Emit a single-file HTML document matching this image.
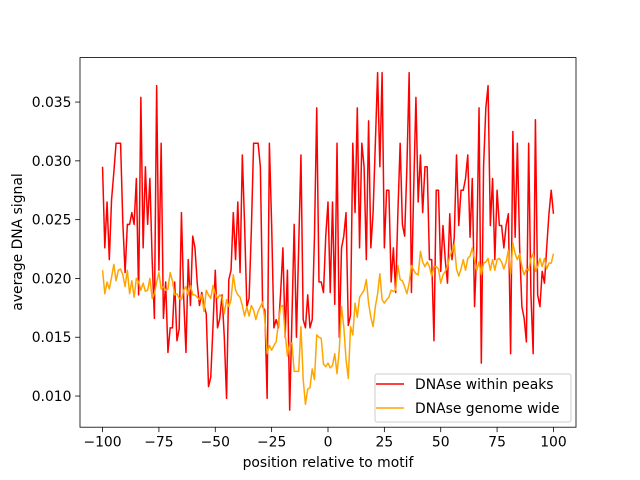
<!DOCTYPE html>
<html><head><meta charset="utf-8"><style>
body{margin:0;background:#fff}
svg{display:block;font-family:"DejaVu Sans","Liberation Sans",sans-serif}
</style></head><body>
<svg id="chart" width="640" height="480" viewBox="0 0 640 480" xmlns="http://www.w3.org/2000/svg">
<rect width="640" height="480" fill="#fff"/>
<g id="plot"></g>
</svg>
<script>
const xStart = -100;
const xTicks = [-100, -75, -50, -25, 0, 25, 50, 75, 100];
const yTicks = [0.010, 0.015, 0.020, 0.025, 0.030, 0.035];
const yTickLabels = ["0.010", "0.015", "0.020", "0.025", "0.030", "0.035"];
const seriesNames = ["DNAse within peaks", "DNAse genome wide"];
const peaksValues = [
0.0295,0.0226,0.0265,0.0216,0.0267,0.0290,0.0315,0.0315,0.0315,0.0247,
0.0205,0.0246,0.0246,0.0256,0.0246,0.0285,0.0186,0.0354,0.0226,0.0295,
0.0246,0.0285,0.0216,0.0166,0.0364,0.0207,0.0315,0.0166,0.0197,0.0137,
0.0158,0.0158,0.0197,0.0147,0.0157,0.0256,0.0183,0.0137,0.0216,0.0177,
0.0236,0.0226,0.0196,0.0177,0.0188,0.0177,0.0170,0.0108,0.0116,0.0160,
0.0207,0.0158,0.0166,0.0186,0.0150,0.0098,0.0199,0.0207,0.0256,0.0216,
0.0265,0.0205,0.0305,0.0246,0.0176,0.0183,0.0241,0.0315,0.0315,0.0315,
0.0295,0.0176,0.0173,0.0098,0.0315,0.0246,0.0158,0.0165,0.0158,0.0188,
0.0226,0.0150,0.0207,0.0088,0.0166,0.0246,0.0150,0.0227,0.0305,0.0165,
0.0158,0.0186,0.0158,0.0165,0.0236,0.0345,0.0197,0.0197,0.0188,0.0236,
0.0265,0.0188,0.0265,0.0178,0.0315,0.0150,0.0226,0.0236,0.0256,0.0160,
0.0169,0.0315,0.0256,0.0345,0.0226,0.0315,0.0295,0.0216,0.0334,0.0226,
0.0256,0.0315,0.0375,0.0295,0.0375,0.0226,0.0275,0.0275,0.0197,0.0226,
0.0188,0.0256,0.0315,0.0246,0.0236,0.0295,0.0375,0.0188,0.0275,0.0354,
0.0265,0.0305,0.0256,0.0295,0.0295,0.0216,0.0216,0.0147,0.0275,0.0275,
0.0206,0.0245,0.0216,0.0196,0.0255,0.0216,0.0235,0.0305,0.0245,0.0275,
0.0275,0.0285,0.0305,0.0235,0.0285,0.0176,0.0226,0.0345,0.0128,0.0295,
0.0345,0.0364,0.0245,0.0285,0.0216,0.0275,0.0245,0.0245,0.0226,0.0245,
0.0255,0.0136,0.0325,0.0235,0.0315,0.0226,0.0176,0.0166,0.0146,0.0315,
0.0187,0.0136,0.0335,0.0186,0.0176,0.0206,0.0196,0.0226,0.0255,0.0275,
0.0255];
const genomeValues = [
0.0207,0.0187,0.0197,0.0191,0.0201,0.0212,0.0198,0.0207,0.0208,0.0203,
0.0193,0.0207,0.0187,0.0198,0.0184,0.0200,0.0197,0.0190,0.0196,0.0189,
0.0190,0.0200,0.0183,0.0187,0.0197,0.0205,0.0191,0.0193,0.0190,0.0191,
0.0205,0.0198,0.0186,0.0187,0.0183,0.0182,0.0190,0.0193,0.0186,0.0194,
0.0186,0.0186,0.0184,0.0182,0.0186,0.0172,0.0190,0.0186,0.0183,0.0194,
0.0187,0.0183,0.0186,0.0184,0.0170,0.0182,0.0176,0.0182,0.0203,0.0190,
0.0186,0.0184,0.0177,0.0168,0.0176,0.0168,0.0177,0.0173,0.0165,0.0172,
0.0176,0.0180,0.0165,0.0136,0.0143,0.0139,0.0143,0.0146,0.0162,0.0176,
0.0177,0.0153,0.0134,0.0145,0.0145,0.0121,0.0121,0.0121,0.0159,0.0114,
0.0093,0.0106,0.0107,0.0123,0.0114,0.0152,0.0150,0.0149,0.0127,0.0125,
0.0128,0.0124,0.0126,0.0136,0.0119,0.0139,0.0176,0.0159,0.0131,0.0115,
0.0159,0.0152,0.0179,0.0167,0.0184,0.0187,0.0190,0.0199,0.0179,0.0167,
0.0159,0.0176,0.0187,0.0204,0.0182,0.0179,0.0182,0.0184,0.0190,0.0189,
0.0190,0.0211,0.0199,0.0198,0.0193,0.0187,0.0196,0.0211,0.0207,0.0204,
0.0203,0.0223,0.0214,0.0210,0.0214,0.0210,0.0202,0.0210,0.0210,0.0208,
0.0196,0.0203,0.0206,0.0210,0.0219,0.0223,0.0229,0.0208,0.0202,0.0208,
0.0216,0.0207,0.0217,0.0219,0.0226,0.0216,0.0207,0.0214,0.0203,0.0213,
0.0214,0.0217,0.0207,0.0216,0.0207,0.0216,0.0217,0.0214,0.0208,0.0214,
0.0224,0.0204,0.0230,0.0221,0.0216,0.0221,0.0210,0.0203,0.0208,0.0207,
0.0217,0.0221,0.0206,0.0210,0.0217,0.0210,0.0217,0.0208,0.0213,0.0213,
0.0221];

const L = 80, R = 576, T = 57.6, B = 427.2;
const xMin = -110, xMax = 110, yMin = 0.00735, yMax = 0.03878;
const FS = 13.9;
const xs = v => L + (v - xMin) / (xMax - xMin) * (R - L);
const ys = v => B - (v - yMin) / (yMax - yMin) * (B - T);
const NS = "http://www.w3.org/2000/svg";
const plot = document.getElementById('plot');
function mk(tag, attrs, parent) {
  const e = document.createElementNS(NS, tag);
  for (const k in attrs) e.setAttribute(k, attrs[k]);
  (parent || plot).appendChild(e);
  return e;
}
function drawLine(vals, color, name) {
  const pts = vals.map((v, i) => xs(xStart + i).toFixed(2) + ',' + ys(v).toFixed(2)).join(' ');
  const p = mk('polyline', {points: pts, fill: 'none', stroke: color, 'stroke-width': 1.5, 'stroke-linejoin': 'round'});
  
  
}
drawLine(peaksValues, '#ff0000', 'peaks-line');
drawLine(genomeValues, '#ffa500', 'genome-wide-line');

const frame = mk('rect', {x: L, y: T, width: R - L, height: B - T, fill: 'none', stroke: '#000', 'stroke-width': 0.8});



xTicks.forEach(t => {
  const x = xs(t);
  mk('line', {x1: x, y1: B, x2: x, y2: B + 4.9, stroke: '#000', 'stroke-width': 0.8});
  const tx = mk('text', {x: x, y: B + 19.5, 'text-anchor': 'middle', 'font-size': FS});
  tx.textContent = String(t).replace('-', '\u2212');
  
  
});
yTicks.forEach((t, i) => {
  const y = ys(t);
  mk('line', {x1: L - 4.9, y1: y, x2: L, y2: y, stroke: '#000', 'stroke-width': 0.8});
  const tx = mk('text', {x: L - 8.5, y: y + 5, 'text-anchor': 'end', 'font-size': FS});
  tx.textContent = yTickLabels[i];
  
  
});
const xl = mk('text', {x: (L + R) / 2, y: 467, 'text-anchor': 'middle', 'font-size': FS});
xl.textContent = 'position relative to motif';


const yl = mk('text', {x: 0, y: 0, 'text-anchor': 'middle', 'font-size': FS, transform: 'translate(22,242) rotate(-90)'});
yl.textContent = 'average DNA signal';



const lg = mk('g', {});


mk('rect', {x: 375, y: 374, width: 196, height: 48, rx: 2, fill: '#fff', 'fill-opacity': 0.8, stroke: '#ccc', 'stroke-width': 1}, lg);
const colors = ['#ff0000', '#ffa500'];
seriesNames.forEach((n, i) => {
  const y = 384 + i * 24;
  const ln = mk('line', {x1: 376, y1: y, x2: 404, y2: y, stroke: colors[i], 'stroke-width': 1.5}, lg);
  
  
  const tx = mk('text', {x: 415, y: y + 5, 'font-size': FS}, lg);
  tx.textContent = n;
  
  
});
</script>
</body></html>
